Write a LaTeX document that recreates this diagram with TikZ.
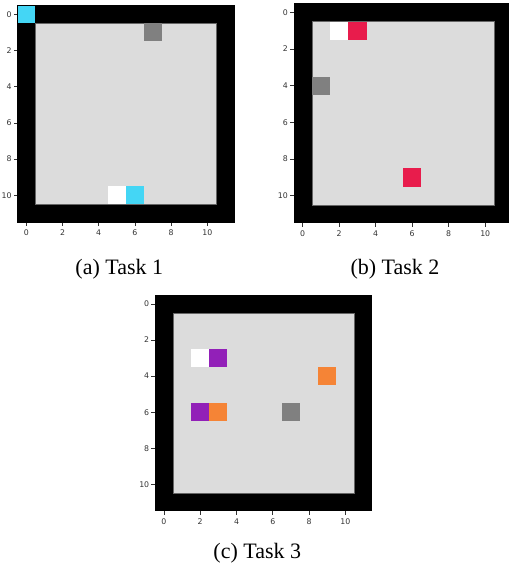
\documentclass[tikz,border=0pt]{standalone}
\usepackage{fontspec}
\setmainfont{Liberation Serif}
\newfontfamily\tickfont{DejaVu Sans}
\definecolor{bordercol}{RGB}{0,0,0}
\definecolor{floorcol}{RGB}{220,220,220}
\definecolor{wallgray}{RGB}{128,128,128}
\definecolor{cyancol}{RGB}{68,214,245}
\definecolor{redcol}{RGB}{232,28,76}
\definecolor{purplecol}{RGB}{146,32,184}
\definecolor{orangecol}{RGB}{245,132,54}
\tikzset{
  cellbox/.style={fill=#1, draw=none},
  ticktext/.style={font=\tickfont\fontsize{7.8}{9}\selectfont, inner sep=0pt, text=black!80},
  tickline/.style={line width=0.8pt, black!80},
  caption/.style={font=\fontsize{22}{26}\selectfont, anchor=base, inner sep=0pt}
}
% #1 x0, #2 y0 (pt), #3 cell size x, #4 cell size y, #5 name prefix
\newcommand\gridframe[5]{%
  \begin{scope}[shift={(#1pt,-#2pt)}, x=#3pt, y=-#4pt]
    \fill[bordercol] (0,0) rectangle (12,12);
    \fill[floorcol] (1,1) rectangle (11,11);
    \draw[black!60, line width=0.4pt] (1,1) rectangle (11,11);
    \foreach \k in {0,2,...,10}{
      \draw[tickline] (0,\k+0.5) -- ++(-3.5pt,0);
      \node[ticktext, anchor=east] (#5y\k) at ([xshift=-5.5pt]0,\k+0.5) {\k};
      \draw[tickline] (\k+0.5,12) -- ++(0,-3.5pt);
      \node[ticktext, anchor=center] (#5x\k) at ([yshift=-10pt]\k+0.5,12) {\k};
    }
  \end{scope}}
\newcommand\gridcell[7]{%
  \begin{scope}[shift={(#1pt,-#2pt)}, x=#3pt, y=-#4pt]
    \fill[#7] (#5,#6) rectangle ++(1,1);
  \end{scope}}
\begin{document}
\begin{tikzpicture}[x=1pt,y=-1pt]
\useasboundingbox (0,0) rectangle (509,571);
\clip (0,0) rectangle (509,571);
% ---------- Task 1
\gridframe{17.25}{5.25}{18.1}{18.1}{a}
\gridcell{17.25}{5.25}{18.1}{18.1}{0}{0}{cyancol}
\gridcell{17.25}{5.25}{18.1}{18.1}{7}{1}{wallgray}
\gridcell{17.25}{5.25}{18.1}{18.1}{5}{10}{white}
\gridcell{17.25}{5.25}{18.1}{18.1}{6}{10}{cyancol}
\draw[black, line width=0.8pt] (17.25,5.25) rectangle (234.45,222.45);
% ---------- Task 2
\gridframe{293.6}{3.2}{18.25}{18.33}{b}
\gridcell{293.6}{3.2}{18.25}{18.33}{2}{1}{white}
\gridcell{293.6}{3.2}{18.25}{18.33}{3}{1}{redcol}
\gridcell{293.6}{3.2}{18.25}{18.33}{1}{4}{wallgray}
\gridcell{293.6}{3.2}{18.25}{18.33}{6}{9}{redcol}
% ---------- Task 3
\gridframe{154.9}{295}{18.13}{18.03}{c}
\gridcell{154.9}{295}{18.13}{18.03}{2}{3}{white}
\gridcell{154.9}{295}{18.13}{18.03}{3}{3}{purplecol}
\gridcell{154.9}{295}{18.13}{18.03}{9}{4}{orangecol}
\gridcell{154.9}{295}{18.13}{18.03}{2}{6}{purplecol}
\gridcell{154.9}{295}{18.13}{18.03}{3}{6}{orangecol}
\gridcell{154.9}{295}{18.13}{18.03}{7}{6}{wallgray}
% ---------- captions
\node[caption] (capa) at (119.3,274) {(a) Task 1};
\node[caption] (capb) at (395,274) {(b) Task 2};
\node[caption] (capc) at (257.3,558) {(c) Task 3};
\end{tikzpicture}
\end{document}
